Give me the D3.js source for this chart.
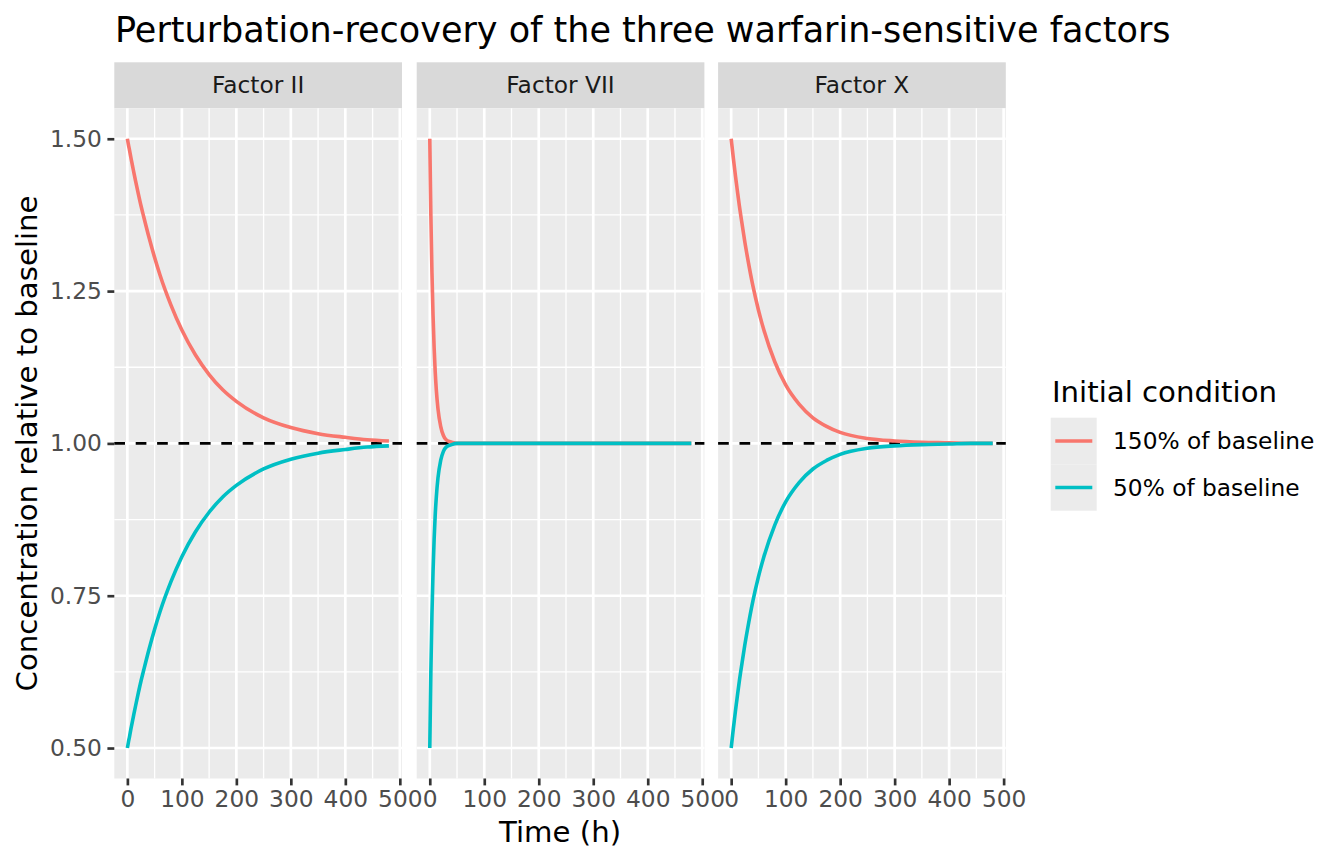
<!DOCTYPE html>
<html>
<head>
<meta charset="utf-8">
<script src="https://cdn.jsdelivr.net/npm/d3@7"></script>
<style>
  body { margin: 0; background: #fff; }
  svg text { font-family: "DejaVu Sans", sans-serif; }
</style>
</head>
<body>
<svg id="chart" width="1344" height="864"></svg>
<script>
// Data (hours, concentration relative to baseline)
const times = [0, 2, 4, 6, 8, 10, 12, 15, 20, 25, 30, 40, 50, 60, 80, 100, 125, 150, 175, 200, 250, 300, 350, 400, 440, 480];
const factors = ['Factor II', 'Factor VII', 'Factor X'];
const conditions = ['150% of baseline', '50% of baseline'];
const condColors = ['#F8766D', '#00BFC4'];

const factorIIHigh = [1.500, 1.490, 1.481, 1.471, 1.462, 1.453, 1.444, 1.431, 1.410, 1.390, 1.372, 1.337, 1.305, 1.276, 1.227, 1.186, 1.145, 1.113, 1.088, 1.069, 1.042, 1.026, 1.016, 1.010, 1.006, 1.004];
const factorIILow  = [0.500, 0.510, 0.519, 0.529, 0.538, 0.547, 0.556, 0.569, 0.590, 0.610, 0.628, 0.663, 0.695, 0.724, 0.773, 0.814, 0.855, 0.887, 0.912, 0.931, 0.958, 0.974, 0.984, 0.990, 0.994, 0.996];
const factorVIIHigh = [1.500, 1.374, 1.280, 1.210, 1.157, 1.117, 1.088, 1.057, 1.028, 1.013, 1.006, 1.002, 1.000, 1.000, 1.000, 1.000, 1.000, 1.000, 1.000, 1.000, 1.000, 1.000, 1.000, 1.000, 1.000, 1.000];
const factorVIILow  = [0.500, 0.626, 0.720, 0.790, 0.843, 0.883, 0.912, 0.943, 0.972, 0.987, 0.994, 0.998, 1.000, 1.000, 1.000, 1.000, 1.000, 1.000, 1.000, 1.000, 1.000, 1.000, 1.000, 1.000, 1.000, 1.000];
const factorXHigh = [1.500, 1.484, 1.468, 1.453, 1.438, 1.424, 1.410, 1.390, 1.360, 1.331, 1.305, 1.258, 1.219, 1.186, 1.134, 1.096, 1.064, 1.042, 1.028, 1.018, 1.008, 1.004, 1.002, 1.001, 1.000, 1.000];
const factorXLow  = [0.500, 0.516, 0.532, 0.547, 0.562, 0.576, 0.590, 0.610, 0.640, 0.669, 0.695, 0.742, 0.781, 0.814, 0.866, 0.904, 0.936, 0.958, 0.972, 0.982, 0.992, 0.996, 0.998, 0.999, 1.000, 1.000];

const seriesByFactor = [
  [factorIIHigh, factorIILow],
  [factorVIIHigh, factorVIILow],
  [factorXHigh, factorXLow]
];

const xTicks = [0, 100, 200, 300, 400, 500];
const xMinor = [50, 150, 250, 350, 450];
const yTicks = [0.50, 0.75, 1.00, 1.25, 1.50];
const yMinor = [0.625, 0.875, 1.125, 1.375];

const svg = d3.select('#chart');

const panelTop = 108.3, panelBottom = 778.5;
const panelLefts = [114.3, 416.7, 718.1];
const panelW = 287.7;
const stripTop = 62.3;
const textSize = 23.3, titleSize = 29.2;

const y = d3.scaleLinear().domain([0.45, 1.55]).range([panelBottom, panelTop]);
const line = (x) => d3.line().x(d => x(d[0])).y(d => y(d[1])).curve(d3.curveMonotoneX);

// Title
svg.append('text')
  .attr('x', 115).attr('y', 41.5)
  .attr('font-size', 35).attr('fill', '#000')
  .text('Perturbation-recovery of the three warfarin-sensitive factors');

factors.forEach((f, i) => {
  const left = panelLefts[i];
  const x = d3.scaleLinear().domain([-24, 504]).range([left, left + panelW]);
  const g = svg.append('g');

  // strip
  g.append('rect').attr('x', left).attr('y', stripTop).attr('width', panelW).attr('height', panelTop - stripTop).attr('fill', '#D9D9D9');
  g.append('text').attr('x', left + panelW / 2).attr('y', (stripTop + panelTop) / 2).attr('dy', '0.35em')
    .attr('text-anchor', 'middle').attr('font-size', textSize).attr('fill', '#1A1A1A').text(f);

  // panel background + grid
  g.append('rect').attr('x', left).attr('y', panelTop).attr('width', panelW).attr('height', panelBottom - panelTop).attr('fill', '#EBEBEB');
  g.selectAll('.ymin').data(yMinor).join('line')
    .attr('x1', left).attr('x2', left + panelW).attr('y1', d => y(d)).attr('y2', d => y(d))
    .attr('stroke', '#fff').attr('stroke-width', 1.33);
  g.selectAll('.xmin').data(xMinor).join('line')
    .attr('y1', panelTop).attr('y2', panelBottom).attr('x1', d => x(d)).attr('x2', d => x(d))
    .attr('stroke', '#fff').attr('stroke-width', 1.33);
  g.append('g').selectAll('line').data(yTicks).join('line')
    .attr('x1', left).attr('x2', left + panelW).attr('y1', d => y(d)).attr('y2', d => y(d))
    .attr('stroke', '#fff').attr('stroke-width', 2.67);
  g.append('g').selectAll('line').data(xTicks).join('line')
    .attr('y1', panelTop).attr('y2', panelBottom).attr('x1', d => x(d)).attr('x2', d => x(d))
    .attr('stroke', '#fff').attr('stroke-width', 2.67);

  // reference line at baseline
  g.append('line').attr('x1', left).attr('x2', left + panelW).attr('y1', y(1)).attr('y2', y(1))
    .attr('stroke', '#000').attr('stroke-width', 2.67).attr('stroke-dasharray', '10.7,10.7');

  // curves
  seriesByFactor[i].forEach((vals, k) => {
    const pts = times.map((t, j) => [t, vals[j]]);
    g.append('path').datum(pts).attr('d', line(x))
      .attr('fill', 'none').attr('stroke', condColors[k]).attr('stroke-width', 3.6);
  });

  // x axis
  const xAxis = d3.axisBottom(x).tickValues(xTicks).tickSize(6.9).tickPadding(5);
  const ax = svg.append('g').attr('transform', `translate(0,${panelBottom})`).call(xAxis);
  ax.select('.domain').remove();
  ax.selectAll('.tick line').attr('stroke', '#333333').attr('stroke-width', 2.67);
  ax.selectAll('.tick text').attr('font-size', textSize).attr('fill', '#4D4D4D').attr('font-family', '"DejaVu Sans", sans-serif');

  if (i === 0) {
    const yAxis = d3.axisLeft(y).tickValues(yTicks).tickFormat(d3.format('.2f')).tickSize(6.9).tickPadding(5.5);
    const ay = svg.append('g').attr('transform', `translate(${left},0)`).call(yAxis);
    ay.select('.domain').remove();
    ay.selectAll('.tick line').attr('stroke', '#333333').attr('stroke-width', 2.67);
    ay.selectAll('.tick text').attr('font-size', textSize).attr('fill', '#4D4D4D').attr('font-family', '"DejaVu Sans", sans-serif');
  }
});

// axis titles
svg.append('text').attr('x', (panelLefts[0] + panelLefts[2] + panelW) / 2).attr('y', 842)
  .attr('text-anchor', 'middle').attr('font-size', titleSize).attr('fill', '#000').text('Time (h)');
svg.append('text').attr('transform', `translate(37,${(panelTop + panelBottom) / 2}) rotate(-90)`)
  .attr('text-anchor', 'middle').attr('font-size', titleSize).attr('fill', '#000').text('Concentration relative to baseline');

// legend
const lg = svg.append('g');
lg.append('text').attr('x', 1052).attr('y', 401.5).attr('font-size', titleSize).attr('fill', '#000').text('Initial condition');
conditions.forEach((c, k) => {
  const top = 417.7 + k * 46.5;
  lg.append('rect').attr('x', 1050.7).attr('y', top).attr('width', 46).attr('height', 46.5).attr('fill', '#EBEBEB');
  lg.append('line').attr('x1', 1055.3).attr('x2', 1092.3).attr('y1', top + 23.25).attr('y2', top + 23.25)
    .attr('stroke', condColors[k]).attr('stroke-width', 3.6);
  lg.append('text').attr('x', 1113).attr('y', top + 23.25).attr('dy', '0.35em')
    .attr('font-size', textSize).attr('fill', '#000').text(c);
});
</script>
</body>
</html>
